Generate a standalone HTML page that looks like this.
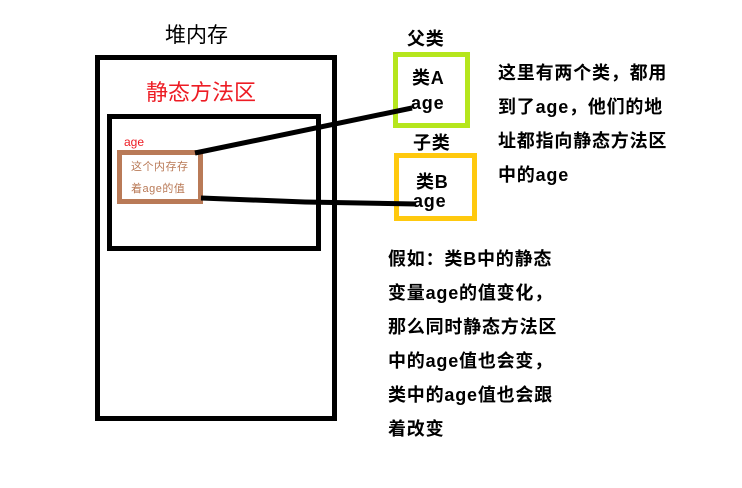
<!DOCTYPE html>
<html><head><meta charset="utf-8"><style>
body{margin:0;width:742px;height:488px;background:#fff;position:relative;overflow:hidden;font-family:"Liberation Sans","Noto Sans CJK SC",sans-serif}
.a{position:absolute;white-space:nowrap}
.b{position:absolute;box-sizing:border-box}
.t{font-weight:bold;font-size:18px;color:#000;letter-spacing:0.8px}
</style></head><body>
<div class="b" style="left:95px;top:55px;width:242px;height:366px;border:5px solid #000"></div>
<div class="b" style="left:107px;top:114px;width:214px;height:137px;border:5px solid #000"></div>
<div class="b" style="left:117px;top:150px;width:86px;height:54px;border:5px solid #b97a57;background:#fff"></div>
<div class="a" style="left:165px;top:19px;font-size:21px">堆内存</div>
<div class="a" style="left:146px;top:75px;font-size:22px;color:#ed1c24">静态方法区</div>
<div class="a" style="left:124px;top:135px;font-size:12px;color:#ed1c24">age</div>
<div class="a" style="left:131px;top:158px;font-size:11px;color:#b97a57;letter-spacing:0.5px">这个内存存</div>
<div class="a" style="left:131px;top:180px;font-size:11px;color:#b97a57;letter-spacing:0.5px">着age的值</div>
<div class="b" style="left:393px;top:52px;width:77px;height:76px;border:5px solid #b5e61d"></div>
<div class="b" style="left:394px;top:153px;width:83px;height:68px;border:5px solid #ffc90e"></div>
<svg class="a" style="left:0;top:0" width="742" height="488"><path d="M195 153 L412 108" stroke="#000" stroke-width="5"/><path d="M201 198 L305 202 L416 204" stroke="#000" stroke-width="5" fill="none"/></svg>
<div class="a t" style="left:407px;top:25px">父类</div>
<div class="a t" style="left:412px;top:64px">类A</div>
<div class="a t" style="left:411px;top:93px">age</div>
<div class="a t" style="left:413px;top:129px">子类</div>
<div class="a t" style="left:416px;top:168px">类B</div>
<div class="a t" style="left:413px;top:191px">age</div>
<div class="a t" style="left:498px;top:56px;line-height:34px">这里有两个类，都用<br>到了age，他们的地<br>址都指向静态方法区<br>中的age</div>
<div class="a t" style="left:388px;top:242px;line-height:34px">假如：类B中的静态<br>变量age的值变化，<br>那么同时静态方法区<br>中的age值也会变，<br>类中的age值也会跟<br>着改变</div>
</body></html>
